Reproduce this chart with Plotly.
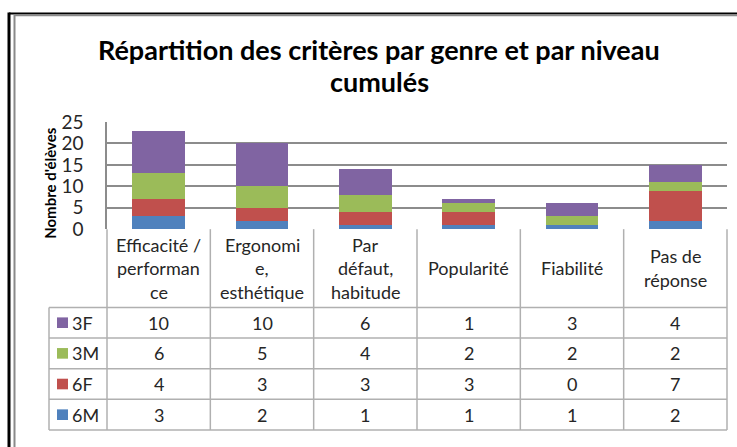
import plotly.graph_objects as go

# Catégories (libellés de l'en-tête du tableau, découpés comme dans Excel)
CATEGORIES = [
    ["Efficacité /", "performan", "ce"],
    ["Ergonomi", "e,", "esthétique"],
    ["Par", "défaut,", "habitude"],
    ["Popularité"],
    ["Fiabilité"],
    ["Pas de", "réponse"],
]

# Séries (empilées de bas en haut)
SERIES = ["6M", "6F", "3M", "3F"]
VAL_6M = [3, 2, 1, 1, 1, 2]
VAL_6F = [4, 3, 3, 3, 0, 7]
VAL_3M = [6, 5, 4, 2, 2, 2]
VAL_3F = [10, 10, 6, 1, 3, 4]
VALUES = {"6M": VAL_6M, "6F": VAL_6F, "3M": VAL_3M, "3F": VAL_3F}

# Ordre des lignes du tableau (de haut en bas)
TABLE_ROWS = ["3F", "3M", "6F", "6M"]

Y_TICKS = [0, 5, 10, 15, 20, 25]

SERIES_COLORS = {
    "6M": "#4F81BD",
    "6F": "#C0504D",
    "3M": "#9BBB59",
    "3F": "#8064A2",
}

FONT = "Lato"
GRID = "#8c8c8c"
TABLE_LINE = "#b0b0b0"
TEXT = "#262626"

# Géométrie (pixels) de la zone de tracé
W, H = 737, 447
L, R, T, B = 107, 10, 122, 6
PLOT_W = W - L - R
PLOT_H = H - T - B

TABLE_TOP = 233
HEADER_H = 81
ROW_H = 31.75
LEGEND_LEFT = 49


def px(x):
    return (x - L) / PLOT_W


def py(y):
    return (H - B - y) / PLOT_H


n = len(CATEGORIES)
x_pos = list(range(n))

fig = go.Figure()
for s in SERIES:
    fig.add_trace(go.Bar(
        x=x_pos,
        y=VALUES[s],
        name=s,
        width=0.51,
        marker=dict(color=SERIES_COLORS[s], line=dict(width=0)),
        showlegend=False,
    ))

shapes = []
annotations = []

# Cadre du graphique (style Excel)
shapes.append(dict(type="line", xref="paper", yref="paper", x0=px(9), x1=px(760), y0=py(9.5), y1=py(9.5),
                   line=dict(color="black", width=2)))
shapes.append(dict(type="line", xref="paper", yref="paper", x0=px(9), x1=px(9), y0=py(8.5), y1=py(460),
                   line=dict(color="black", width=3)))
shapes.append(dict(type="line", xref="paper", yref="paper", x0=px(14.5), x1=px(760), y0=py(11.5), y1=py(11.5),
                   line=dict(color="#8a8a8a", width=2)))
shapes.append(dict(type="line", xref="paper", yref="paper", x0=px(14.5), x1=px(14.5), y0=py(10.5), y1=py(460),
                   line=dict(color="#8a8a8a", width=2)))

# Titre
annotations.append(dict(text="<b>Répartition des critères par genre et par niveau</b>", xref="paper", yref="paper",
                        x=px(379), y=py(47), showarrow=False, xanchor="center", yanchor="middle",
                        font=dict(family=FONT, size=27, color="black")))
annotations.append(dict(text="<b>cumulés</b>", xref="paper", yref="paper",
                        x=px(379), y=py(80), showarrow=False, xanchor="center", yanchor="middle",
                        font=dict(family=FONT, size=27, color="black")))

# Titre de l'axe Y
annotations.append(dict(text="<b>Nombre d'élèves</b>", xref="paper", yref="paper",
                        x=px(50), y=py(185), showarrow=False, textangle=-90,
                        xanchor="center", yanchor="middle",
                        font=dict(family=FONT, size=15, color="black")))

# Tableau de données
col_w = 1 / n
header_bottom = TABLE_TOP + HEADER_H
table_bottom = header_bottom + ROW_H * len(TABLE_ROWS)

# lignes verticales
for k in range(n + 1):
    shapes.append(dict(type="line", xref="paper", yref="paper", x0=k * col_w, x1=k * col_w,
                       y0=py(TABLE_TOP), y1=py(table_bottom), line=dict(color=TABLE_LINE, width=1.5)))
shapes.append(dict(type="line", xref="paper", yref="paper", x0=px(LEGEND_LEFT), x1=px(LEGEND_LEFT),
                   y0=py(header_bottom), y1=py(table_bottom), line=dict(color=TABLE_LINE, width=1.5)))
# lignes horizontales
for r in range(len(TABLE_ROWS) + 1):
    yy = header_bottom + r * ROW_H
    shapes.append(dict(type="line", xref="paper", yref="paper", x0=px(LEGEND_LEFT), x1=1,
                       y0=py(yy), y1=py(yy), line=dict(color=TABLE_LINE, width=1.5)))

# en-têtes
header_mid = TABLE_TOP + HEADER_H / 2
line_gap = 24.5
for i, lines in enumerate(CATEGORIES):
    for j, txt in enumerate(lines):
        yy = header_mid + (j - (len(lines) - 1) / 2) * line_gap
        annotations.append(dict(text=txt, xref="paper", yref="paper", x=(i + 0.5) * col_w, y=py(yy),
                                showarrow=False, xanchor="center", yanchor="middle",
                                font=dict(family=FONT, size=18, color=TEXT)))

# lignes de valeurs
for r, s in enumerate(TABLE_ROWS):
    yy = header_bottom + (r + 0.5) * ROW_H
    shapes.append(dict(type="rect", xref="paper", yref="paper", x0=px(57), x1=px(68),
                       y0=py(yy - 5.5), y1=py(yy + 5.5),
                       fillcolor=SERIES_COLORS[s], line=dict(width=0)))
    annotations.append(dict(text=s, xref="paper", yref="paper", x=px(70), y=py(yy),
                            showarrow=False, xanchor="left", yanchor="middle",
                            font=dict(family=FONT, size=18, color=TEXT)))
    for i, v in enumerate(VALUES[s]):
        annotations.append(dict(text=str(v), xref="paper", yref="paper", x=(i + 0.5) * col_w, y=py(yy),
                                showarrow=False, xanchor="center", yanchor="middle",
                                font=dict(family=FONT, size=18, color=TEXT)))

fig.update_layout(
    width=W, height=H,
    margin=dict(l=L, r=R, t=T, b=B),
    paper_bgcolor="white",
    plot_bgcolor="white",
    barmode="stack",
    bargap=0,
    shapes=shapes,
    annotations=annotations,
    xaxis=dict(range=[-0.5, n - 0.5], showticklabels=False, showgrid=False, zeroline=False,
               showline=False, fixedrange=True),
    yaxis=dict(domain=[py(TABLE_TOP), 1], range=[0, 25], tickvals=Y_TICKS,
               showgrid=True, gridcolor=GRID, gridwidth=1.5,
               showline=True, linecolor=GRID, linewidth=1.5, zeroline=False,
               tickfont=dict(family=FONT, size=19, color=TEXT),
               ticks="", ticklabelstandoff=18, fixedrange=True),
)

# la page HTML ajoute 8 px de marge au body : on la supprime
fig.write_html(
    "out.html",
    config={"displayModeBar": False},
    post_script="document.body.style.margin='0';",
)
